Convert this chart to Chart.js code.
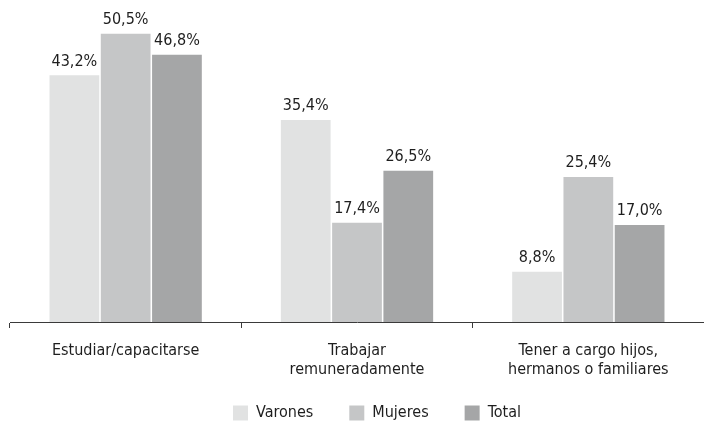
<!DOCTYPE html>
<html>
<head>
<meta charset="utf-8">
<script src="https://cdn.jsdelivr.net/npm/chart.js@4/dist/chart.umd.min.js"></script>
<style>
  html, body { margin: 0; padding: 0; background: #fff; }
  #wrap { width: 704px; height: 422px; position: relative; }
</style>
</head>
<body>
<div id="wrap"><canvas id="chart"></canvas></div>
<script>
  const categories = [["Estudiar/capacitarse"], ["Trabajar", "remuneradamente"], ["Tener a cargo hijos,", "hermanos o familiares"]];
  const seriesNames = ["Varones", "Mujeres", "Total"];
  const varones = [43.2, 35.4, 8.8];
  const mujeres = [50.5, 17.4, 25.4];
  const total = [46.8, 26.5, 17.0];
  const COLORS = ["#e1e2e2", "#c5c6c7", "#a5a6a7"];
  const FONT = "'DejaVu Sans Condensed', 'Open Sans', sans-serif";

  const fmt = v => v.toFixed(1).replace(".", ",") + "%";

  const valueLabels = {
    id: "valueLabels",
    afterDatasetsDraw(chart) {
      const ctx = chart.ctx;
      ctx.save();
      ctx.font = "16px " + FONT;
      ctx.fillStyle = "#1e1e1e";
      ctx.textAlign = "center";
      ctx.textBaseline = "bottom";
      chart.data.datasets.forEach((ds, i) => {
        chart.getDatasetMeta(i).data.forEach((bar, j) => {
          ctx.fillText(fmt(ds.data[j]), bar.x, bar.y - 6);
        });
      });
      ctx.restore();
    }
  };

  // x labels may run into the (empty) top padding of the legend; legend nudged right
  const tweakLayout = {
    id: "tweakLayout",
    afterLayout(chart) {
      chart.scales.x.bottom = chart.height;
      chart.legend.left += 40;
    }
  };

  new Chart(document.getElementById("chart"), {
    type: "bar",
    data: {
      labels: categories,
      datasets: [
        { label: seriesNames[0], data: varones, backgroundColor: COLORS[0] },
        { label: seriesNames[1], data: mujeres, backgroundColor: COLORS[1] },
        { label: seriesNames[2], data: total, backgroundColor: COLORS[2] },
      ]
    },
    options: {
      responsive: true, maintainAspectRatio: false, animation: false,
      categoryPercentage: 0.665, barPercentage: 0.97,
      layout: { padding: { left: 10, right: 0, top: 8, bottom: -9 } },
      plugins: {
        legend: {
          position: "bottom",
          labels: { font: { family: FONT, size: 16 }, color: "#1e1e1e", boxWidth: 15, boxHeight: 15, padding: 36 }
        },
        tooltip: { enabled: false }
      },
      scales: {
        x: {
          grid: { display: true, drawOnChartArea: false, drawTicks: true, tickLength: 6, color: "#3a3a3a", offset: true },
          border: { display: true, color: "#3a3a3a", width: 1 },
          ticks: { font: { family: FONT, size: 16, lineHeight: 1.15 }, color: "#1e1e1e", padding: 14, maxRotation: 0 },
          afterFit: scale => { scale.height = 47; }
        },
        y: { display: false, min: 0, max: 55 }
      }
    },
    plugins: [valueLabels, tweakLayout]
  });
</script>
</body>
</html>
